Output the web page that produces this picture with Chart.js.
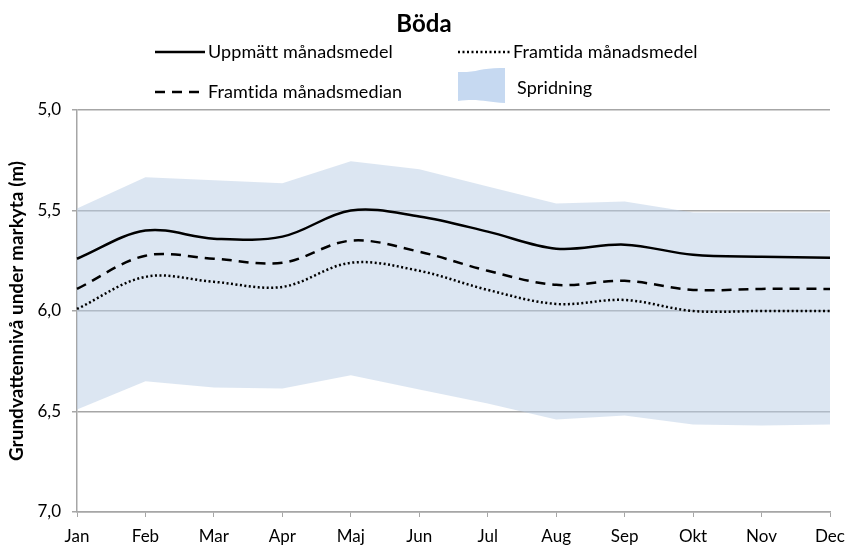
<!DOCTYPE html>
<html lang="sv">
<head>
  <meta charset="UTF-8">
  <title>Böda</title>
  <style>
    body {
      margin: 0;
      background: #ffffff;
    }
    #wrap {
      width: 847px;
      height: 547px;
    }
  </style>
  <script src="https://cdn.jsdelivr.net/npm/chart.js"></script>
</head>
<body>
  <div id="wrap">
    <canvas id="bodaChart" width="847" height="547"></canvas>
  </div>

  <script>
    // data (m under markyta)
    var months = ['Jan', 'Feb', 'Mar', 'Apr', 'Maj', 'Jun', 'Jul', 'Aug', 'Sep', 'Okt', 'Nov', 'Dec'];
    var uppmatt = [5.74, 5.60, 5.64, 5.63, 5.50, 5.53, 5.605, 5.69, 5.67, 5.72, 5.73, 5.735];
    var framtidaMedian = [5.89, 5.725, 5.74, 5.76, 5.65, 5.705, 5.80, 5.87, 5.85, 5.895, 5.89, 5.89];
    var framtidaMedel = [5.99, 5.83, 5.855, 5.88, 5.76, 5.80, 5.895, 5.965, 5.945, 6.0, 6.0, 6.0];
    var spridningMin = [5.49, 5.335, 5.35, 5.365, 5.255, 5.295, 5.38, 5.465, 5.455, 5.51, 5.51, 5.51];
    var spridningMax = [6.49, 6.35, 6.38, 6.385, 6.32, 6.39, 6.46, 6.54, 6.52, 6.565, 6.57, 6.565];
    var yTicks = [5.0, 5.5, 6.0, 6.5, 7.0];

    var gridGray = '#a6a6a6';
    var fontName = 'Lato, "Open Sans", sans-serif';

    function fmt(v) {
      return v.toFixed(1).replace('.', ',');
    }

    // title + legend drawn by hand, like the Excel original
    var headerPlugin = {
      id: 'header',
      afterDraw: function (chart) {
        var ctx = chart.ctx;
        var ds = chart.data.datasets;
        ctx.save();
        ctx.fillStyle = '#000';
        ctx.textBaseline = 'middle';
        ctx.letterSpacing = '0.1px'; // keeps Lato from joining "ti"

        ctx.font = 'bold 24px ' + fontName;
        ctx.textAlign = 'center';
        ctx.fillText('Böda', 424, 24);

        ctx.font = '18px ' + fontName;
        ctx.textAlign = 'left';

        function sample(x1, x2, y, dash) {
          ctx.beginPath();
          ctx.setLineDash(dash);
          ctx.lineWidth = 2.5;
          ctx.strokeStyle = '#000';
          ctx.moveTo(x1, y);
          ctx.lineTo(x2, y);
          ctx.stroke();
          ctx.setLineDash([]);
        }

        sample(155, 205, 52, []);
        ctx.fillText(ds[0].label, 208, 52);

        sample(458, 510, 52, [2, 2.5]);
        ctx.fillText(ds[2].label, 513, 52);

        sample(155, 205, 92, [10, 7]);
        ctx.fillText(ds[1].label, 208, 92);

        // wavy swatch for the band
        ctx.beginPath();
        ctx.moveTo(458, 72);
        ctx.bezierCurveTo(476, 73, 482, 67, 505, 68);
        ctx.lineTo(505, 103);
        ctx.bezierCurveTo(486, 102, 478, 98, 458, 101);
        ctx.closePath();
        ctx.fillStyle = '#c6d9f1';
        ctx.fill();
        ctx.fillStyle = '#000';
        ctx.fillText(ds[4].label, 517, 88);

        ctx.restore();
      }
    };

    var ctx = document.getElementById('bodaChart').getContext('2d');
    var bodaChart = new Chart(ctx, {
      type: 'line',
      data: {
        labels: months,
        datasets: [{
          label: 'Uppmätt månadsmedel',
          data: uppmatt,
          borderColor: '#000',
          borderWidth: 2.5,
          pointRadius: 0,
          tension: 0.35,
          fill: false,
          order: 1
        }, {
          label: 'Framtida månadsmedian',
          data: framtidaMedian,
          borderColor: '#000',
          borderWidth: 2.5,
          borderDash: [10, 7],
          pointRadius: 0,
          tension: 0.35,
          fill: false,
          order: 1
        }, {
          label: 'Framtida månadsmedel',
          data: framtidaMedel,
          borderColor: '#000',
          borderWidth: 2.5,
          borderDash: [2, 2.5],
          pointRadius: 0,
          tension: 0.35,
          fill: false,
          order: 1
        }, {
          label: 'Spridning min',
          data: spridningMin,
          borderWidth: 0,
          borderColor: 'rgba(0,0,0,0)',
          pointRadius: 0,
          tension: 0,
          fill: false,
          order: 2
        }, {
          label: 'Spridning',
          data: spridningMax,
          borderWidth: 0,
          borderColor: 'rgba(0,0,0,0)',
          backgroundColor: 'rgba(185,205,229,0.5)',
          pointRadius: 0,
          tension: 0,
          fill: 3,
          order: 2
        }]
      },
      options: {
        responsive: false,
        animation: false,
        layout: {
          padding: { top: 110, right: 17, left: 0, bottom: 0 }
        },
        plugins: {
          legend: { display: false },
          title: { display: false },
          tooltip: { enabled: false }
        },
        scales: {
          x: {
            offset: false,
            grid: {
              drawOnChartArea: false,
              drawTicks: true,
              tickLength: 5,
              color: gridGray
            },
            border: { color: gridGray, width: 1.5 },
            ticks: {
              color: '#000',
              font: { family: fontName, size: 17 },
              padding: 9,
              maxRotation: 0,
              autoSkip: false
            },
            afterFit: function (s) {
              s.height = 35;
              s.paddingLeft = 0;
              s.paddingRight = 0;
            }
          },
          y: {
            min: 5,
            max: 7,
            reverse: true,
            afterBuildTicks: function (s) {
              s.ticks = yTicks.map(function (v) { return { value: v }; });
            },
            grid: {
              color: gridGray,
              lineWidth: 1.5,
              tickLength: 5
            },
            border: { color: gridGray, width: 1.5 },
            ticks: {
              color: '#000',
              font: { family: fontName, size: 17 },
              padding: 11,
              callback: function (v) { return fmt(v); }
            },
            title: {
              display: true,
              text: 'Grundvattennivå under markyta (m)',
              color: '#000',
              font: { family: fontName, size: 19, weight: 'bold' },
              padding: { top: 5, bottom: 4 }
            },
            afterFit: function (s) {
              s.width = 77;
              s.paddingTop = 0;
              s.paddingBottom = 0;
            }
          }
        }
      },
      plugins: [headerPlugin]
    });
  </script>
</body>
</html>
